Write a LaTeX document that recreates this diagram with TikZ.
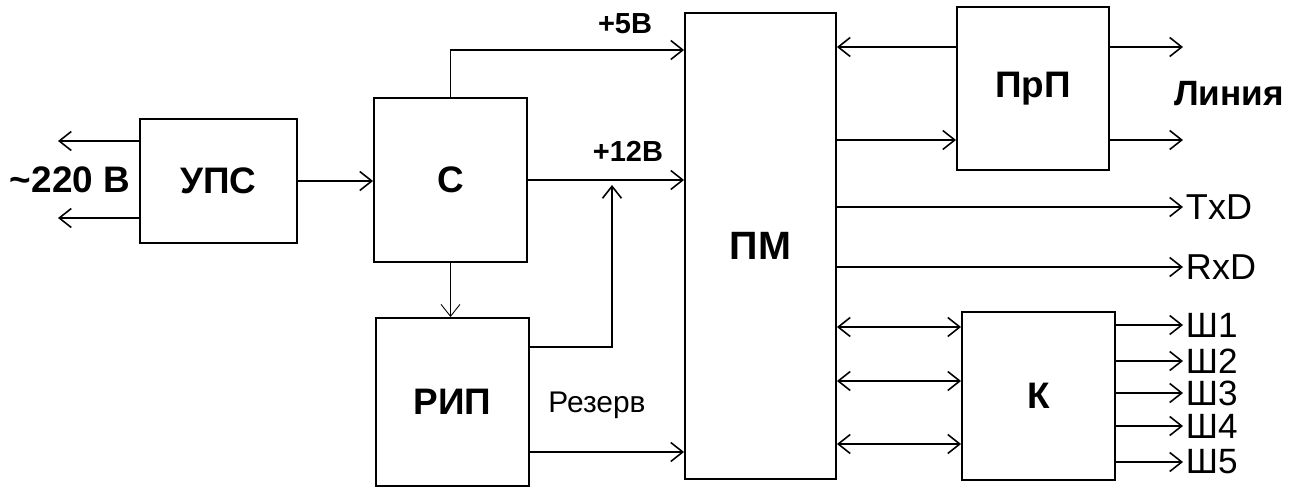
\documentclass[tikz,border=0pt]{standalone}
\usepackage{fontspec}
\setmainfont{Liberation Sans}
\usetikzlibrary{arrows.meta}

\begin{document}
\begin{tikzpicture}[
    x=0.02cm, y=-0.02cm,
    font=\fontsize{20.5}{22}\selectfont,
    blok/.style={rectangle, draw=black, line width=1.1pt, inner sep=0, font=\fontsize{21}{23}\selectfont\bfseries},
    arr/.style={-{Straight Barb[length=2.4mm, width=3.8mm, line width=0.9pt]}, line width=0.9pt},
    darr/.style={{Straight Barb[length=2.4mm, width=3.8mm, line width=0.9pt]}-{Straight Barb[length=2.4mm, width=3.8mm, line width=0.9pt]}, line width=0.9pt},
    thinarr/.style={-{Straight Barb[length=2.4mm, width=3.8mm, line width=0.5pt]}, line width=0.5pt},
    sig/.style={anchor=west, inner sep=1.5pt},
    shina/.style={anchor=west, inner sep=0pt, xshift=1.5pt, font=\fontsize{20}{21}\selectfont}
]
\useasboundingbox (0,0) rectangle (1299,487);

% Parámetros
\def\px{0.02cm}

% ============================================
% BLOQUES
% ============================================
\node[blok, minimum width=157*\px, minimum height=124*\px] (ups) at (218.5,181) {УПС};
\node[blok, minimum width=153*\px, minimum height=164*\px] (c)   at (450.5,180) {С};
\node[blok, minimum width=153*\px, minimum height=168*\px] (rip) at (452.5,402) {РИП};
\node[blok, minimum width=151*\px, minimum height=466*\px, font=\fontsize{22.5}{24}\selectfont\bfseries] (pm) at (760.5,246) {ПМ};
\node[blok, minimum width=152*\px, minimum height=163*\px] (prp) at (1033,88.5) {ПрП};
\node[blok, minimum width=153*\px, minimum height=168*\px] (k)   at (1038.5,396) {К};

% ============================================
% ENTRADA DE RED
% ============================================
\coordinate (net1) at (58,141);
\coordinate (net2) at (58,218);
\draw[arr] (ups.west |- net1) -- (net1);
\draw[arr] (ups.west |- net2) -- (net2);
\node[font=\fontsize{21}{23}\selectfont\bfseries] (net) at (70,180) {\textasciitilde220 В};

\draw[arr] (ups.east) -- (ups.east -| c.west);

% ============================================
% ALIMENTACIÓN +5В / +12В
% ============================================
\coordinate (v5) at (0,50);
\draw[arr] (c.north) |- (pm.west |- v5);
\node[font=\fontsize{16.5}{18}\selectfont\bfseries] (l5) at (625,24) {+5В};

\draw[arr] (c.east) -- (c.east -| pm.west);
\node[font=\fontsize{16.5}{18}\selectfont\bfseries] (l12) at (628,151) {+12В};

\draw[thinarr] (c.south) -- (c.south |- rip.north);

\coordinate (rz) at (612,347);
\coordinate (rzt) at (612,185);
\draw[arr] (rip.east |- rz) -| (rzt);

\coordinate (rsv) at (0,452);
\draw[arr] (rip.east |- rsv) -- (pm.west |- rsv);
\node[font=\fontsize{17}{19}\selectfont] (lrsv) at (597,405) {Резерв};

% ============================================
% ПрП - LÍNEA
% ============================================
\coordinate (l1) at (1183,47);
\coordinate (l2) at (1183,140);
\draw[arr] (prp.west |- l1) -- (pm.east |- l1);
\draw[arr] (pm.east |- l2) -- (prp.west |- l2);
\draw[arr] (prp.east |- l1) -- (l1);
\draw[arr] (prp.east |- l2) -- (l2);
\node[font=\fontsize{20}{22}\selectfont\bfseries] (linia) at (1229,94) {Линия};

% ============================================
% TxD / RxD
% ============================================
\coordinate (txd) at (1183,207);
\coordinate (rxd) at (1183,267);
\draw[arr] (pm.east |- txd) -- (txd);
\draw[arr] (pm.east |- rxd) -- (rxd);
\node[sig] (ltxd) at (txd) {TxD};
\node[sig] (lrxd) at (rxd) {RxD};

% ============================================
% К - SALIDAS Ш
% ============================================
\foreach \y in {327,381,444}
    \draw[darr] (pm.east |- 0,\y) -- (k.west |- 0,\y);

\foreach \y/\n in {325/1, 361/2, 393/3, 426/4, 462/5}{
    \coordinate (sh\n) at (1183,\y);
    \draw[arr] (k.east |- sh\n) -- (sh\n);
    \node[shina] (lsh\n) at (sh\n) {Ш\n};
}

\end{tikzpicture}
\end{document}
